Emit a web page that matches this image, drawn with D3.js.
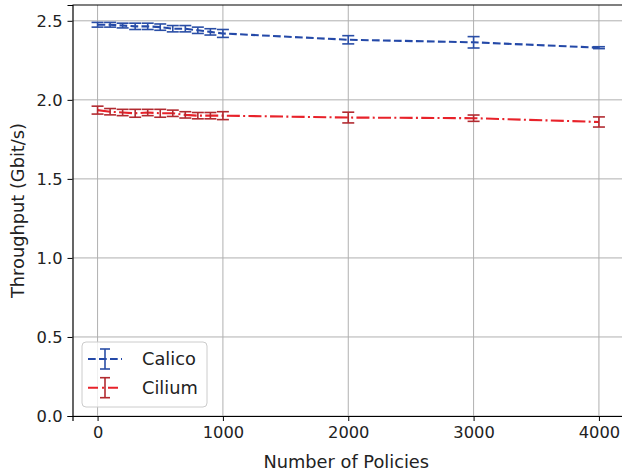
<!DOCTYPE html>
<html><head><meta charset="utf-8">
<script src="https://cdn.jsdelivr.net/npm/d3@7"></script>
<style>body{margin:0;background:#fff}svg{display:block}text{font-family:"DejaVu Sans",sans-serif;fill:#222}</style>
</head><body><div id="chart"></div>
<script>
const policies = [0,100,200,300,400,500,600,700,800,900,1000,2000,3000,4000];
const calicoMean = [2.475,2.475,2.47,2.465,2.465,2.46,2.45,2.45,2.44,2.43,2.42,2.38,2.364,2.33];
const calicoErr  = [0.015,0.015,0.015,0.02,0.02,0.02,0.02,0.02,0.02,0.02,0.025,0.026,0.036,0.006];
const ciliumMean = [1.935,1.925,1.92,1.915,1.92,1.915,1.915,1.905,1.90,1.90,1.90,1.888,1.884,1.86];
const ciliumErr  = [0.025,0.02,0.02,0.025,0.02,0.025,0.02,0.02,0.02,0.02,0.025,0.034,0.02,0.032];
const xTicks = [0,1000,2000,3000,4000];
const yTicks = [0,0.5,1.0,1.5,2.0,2.5];
const seriesNames = ["Calico","Cilium"];

const W=622,H=472;
const svg=d3.select("#chart").append("svg").attr("width",W).attr("height",H);
const x=d3.scaleLinear().domain([-200,4200]).range([72.5,624]);
const y=d3.scaleLinear().domain([0,2.6]).range([416,5]);

// grid
const g=svg.append("g");
g.selectAll(".vg").data(xTicks).enter().append("line")
 .attr("x1",d=>x(d)).attr("x2",d=>x(d)).attr("y1",y(0)).attr("y2",y(2.6))
 .attr("stroke","#b0b0b0").attr("stroke-width",1);
g.selectAll(".hg").data(yTicks).enter().append("line")
 .attr("x1",x(-200)).attr("x2",x(4200)).attr("y1",d=>y(d)).attr("y2",d=>y(d))
 .attr("stroke","#b0b0b0").attr("stroke-width",1);

const series=[
 {name:seriesNames[0],mean:calicoMean,err:calicoErr,line:"#2449a8",bar:"#2a4ea6",dash:"7.7,3.3"},
 {name:seriesNames[1],mean:ciliumMean,err:ciliumErr,line:"#e8222a",bar:"#b22a30",dash:"13,3.3,2,3.3"}
];
const cap=6;
series.forEach(s=>{
  const pts=policies.map((p,i)=>({x:p,m:s.mean[i],e:s.err[i]}));
  svg.append("path").datum(pts)
   .attr("d",d3.line().x(d=>x(d.x)).y(d=>y(d.m)))
   .attr("fill","none").attr("stroke",s.line).attr("stroke-width",2.1).attr("stroke-dasharray",s.dash);
  const eb=svg.append("g").attr("stroke",s.bar).attr("stroke-width",1.6);
  pts.forEach(d=>{
    eb.append("line").attr("x1",x(d.x)).attr("x2",x(d.x)).attr("y1",y(d.m-d.e)).attr("y2",y(d.m+d.e));
    eb.append("line").attr("x1",x(d.x)-cap).attr("x2",x(d.x)+cap).attr("y1",y(d.m-d.e)).attr("y2",y(d.m-d.e));
    eb.append("line").attr("x1",x(d.x)-cap).attr("x2",x(d.x)+cap).attr("y1",y(d.m+d.e)).attr("y2",y(d.m+d.e));
  });
});

// axes
const xa=svg.append("g").attr("transform",`translate(0,${y(0)})`)
 .call(d3.axisBottom(x).tickValues(xTicks).tickFormat(d3.format("d")).tickSizeOuter(0).tickSize(5).tickPadding(5));
const ya=svg.append("g").attr("transform",`translate(${x(-200)},0)`)
 .call(d3.axisLeft(y).tickValues(yTicks).tickFormat(d3.format(".1f")).tickSizeOuter(0).tickSize(5).tickPadding(5));
[xa,ya].forEach(a=>{a.select(".domain").attr("stroke","#000").attr("stroke-width",1.2);
 a.selectAll(".tick line").attr("stroke","#000").attr("stroke-width",1);
 a.selectAll("text").style("font-size","16.3px").attr("fill","#222");});
svg.append("line").attr("x1",x(-200)).attr("x2",x(4200)).attr("y1",y(2.6)).attr("y2",y(2.6)).attr("stroke","#000").attr("stroke-width",1.2);

svg.append("text").attr("x",(x(-200)+x(4200))/2-2).attr("y",468).attr("text-anchor","middle").style("font-size","17.8px").text("Number of Policies");
svg.append("text").attr("transform",`translate(24,${(y(0)+y(2.6))/2}) rotate(-90)`).attr("text-anchor","middle").style("font-size","17.8px").text("Throughput (Gbit/s)");

// legend
const lg=svg.append("g");
lg.append("rect").attr("x",82).attr("y",342).attr("width",125).attr("height",65).attr("rx",4)
 .attr("fill","#fff").attr("fill-opacity",0.8).attr("stroke","#cccccc");
series.forEach((s,i)=>{
  const cy=359+i*28.7;
  lg.append("line").attr("x1",88).attr("x2",122).attr("y1",cy).attr("y2",cy).attr("stroke",s.line).attr("stroke-width",2.1).attr("stroke-dasharray",i==0?"7.7,3.3":"10,4,2,4");
  lg.append("line").attr("x1",105).attr("x2",105).attr("y1",cy-10).attr("y2",cy+10).attr("stroke",s.bar).attr("stroke-width",1.6);
  lg.append("line").attr("x1",100).attr("x2",110).attr("y1",cy-10).attr("y2",cy-10).attr("stroke",s.bar).attr("stroke-width",1.6);
  lg.append("line").attr("x1",100).attr("x2",110).attr("y1",cy+10).attr("y2",cy+10).attr("stroke",s.bar).attr("stroke-width",1.6);
  lg.append("text").attr("x",142).attr("y",cy+6).style("font-size","17.8px").text(s.name);
});
</script></body></html>
